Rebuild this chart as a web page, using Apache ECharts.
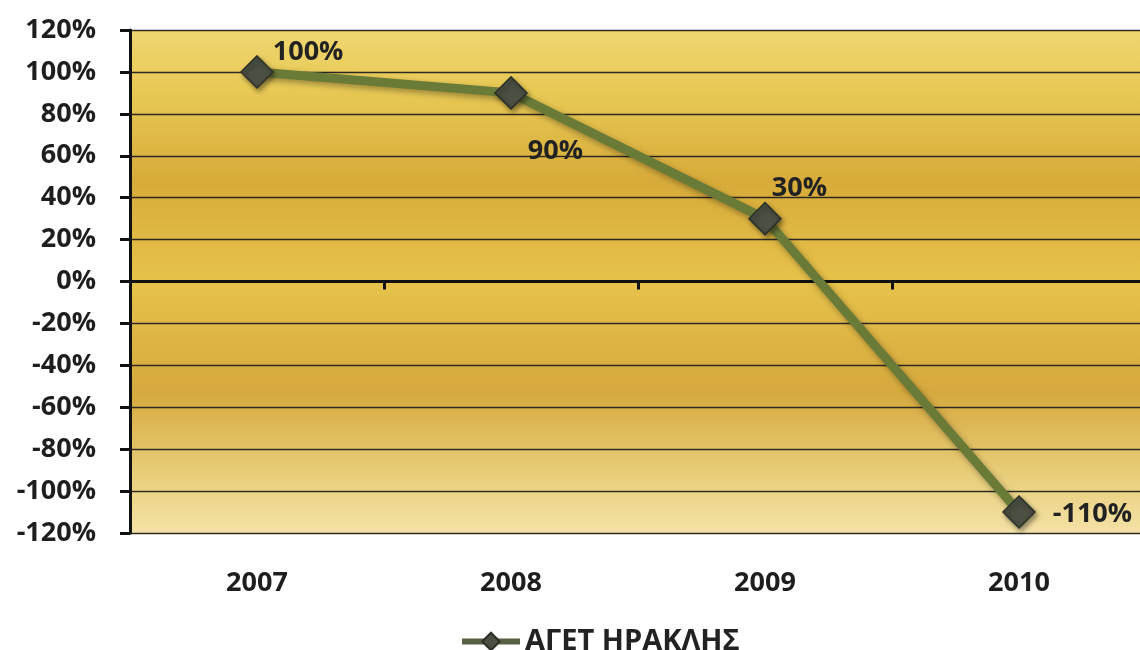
<!DOCTYPE html>
<html>
<head>
<meta charset="utf-8">
<script src="https://cdn.jsdelivr.net/npm/echarts@6/dist/echarts.min.js"></script>
<style>
  html, body { margin: 0; padding: 0; background: #ffffff; }
  #chart { width: 1140px; height: 650px; }
</style>
</head>
<body>
<div id="chart"></div>
<script>
// Yearly change for ΑΓΕΤ ΗΡΑΚΛΗΣ, in percent
const years = ['2007', '2008', '2009', '2010'];
const seriesName = 'ΑΓΕΤ ΗΡΑΚΛΗΣ';
const values = [100, 90, 30, -110];
// value-label placement per point: [dx, dy] from the right side of the marker
const labelShift = [[-3, -20], [-2, 58], [-12, -30], [15, 2]];

const FONT = '"Open Sans", "DejaVu Sans", sans-serif';
const chart = echarts.init(document.getElementById('chart'));

// banded gold fill of the plot area
const plotFill = new echarts.graphic.LinearGradient(0, 0, 0, 1, [
  { offset: 0.00, color: '#efd670' },
  { offset: 0.12, color: '#e8c955' },
  { offset: 0.30, color: '#d7ab3a' },
  { offset: 0.50, color: '#e6c24b' },
  { offset: 0.72, color: '#d6a93e' },
  { offset: 0.88, color: '#e8cd78' },
  { offset: 1.00, color: '#f4e2a6' }
]);

chart.setOption({
  backgroundColor: '#ffffff',
  animation: false,
  grid: {
    left: 130, top: 30, width: 1016, height: 503,
    containLabel: false, outerBoundsMode: 'none',
    show: true, backgroundColor: plotFill, borderWidth: 0
  },
  legend: {
    top: 622, left: 454,
    itemWidth: 58, itemHeight: 22, itemGap: 4,
    lineStyle: { width: 6, color: '#596145' },
    textStyle: { fontFamily: FONT, fontWeight: 'bold', fontSize: 29, color: '#222' },
    data: [seriesName]
  },
  xAxis: [
    {
      // year labels below the plot
      type: 'category', data: years, position: 'bottom',
      axisLine: { show: false, onZero: false }, axisTick: { show: false },
      axisLabel: { margin: 37, fontFamily: FONT, fontWeight: 'bold', fontSize: 27, color: '#1e1e1e' }
    },
    {
      // axis line and ticks sitting on the 0% level
      type: 'category', data: years, position: 'bottom',
      axisLine: { show: true, onZero: true, onZeroAxisIndex: 0, lineStyle: { color: '#111', width: 3 } },
      axisTick: { show: true, length: 8, lineStyle: { color: '#111', width: 3 } },
      axisLabel: { show: false }
    }
  ],
  yAxis: {
    type: 'value', min: -120, max: 120, interval: 20,
    axisLine: { show: true, lineStyle: { color: '#111', width: 3 } },
    axisTick: { show: true, length: 10, lineStyle: { color: '#111', width: 3 } },
    axisLabel: {
      formatter: '{value}%', margin: 34, hideOverlap: false,
      showMinLabel: true, showMaxLabel: true,
      fontFamily: FONT, fontWeight: 'bold', fontSize: 27, color: '#1e1e1e'
    },
    splitLine: { show: true, lineStyle: { color: '#2e2a22', width: 1.4 } }
  },
  series: [{
    name: seriesName,
    type: 'line',
    xAxisIndex: 0,
    data: values.map((v, i) => ({
      value: v,
      label: { offset: labelShift[i] }
    })),
    lineStyle: {
      color: '#6a7b38', width: 9,
      shadowColor: 'rgba(0,0,0,0.35)', shadowBlur: 6, shadowOffsetX: 2, shadowOffsetY: 3
    },
    symbol: 'diamond', symbolSize: 32,
    itemStyle: {
      color: '#4b5043', borderColor: '#2c3028', borderWidth: 1.5,
      shadowColor: 'rgba(0,0,0,0.4)', shadowBlur: 5, shadowOffsetX: 2, shadowOffsetY: 3
    },
    label: {
      show: true, position: 'right', distance: 2,
      formatter: '{c}%',
      fontFamily: FONT, fontWeight: 'bold', fontSize: 27, color: '#222'
    },
    z: 5
  }]
});
</script>
</body>
</html>
